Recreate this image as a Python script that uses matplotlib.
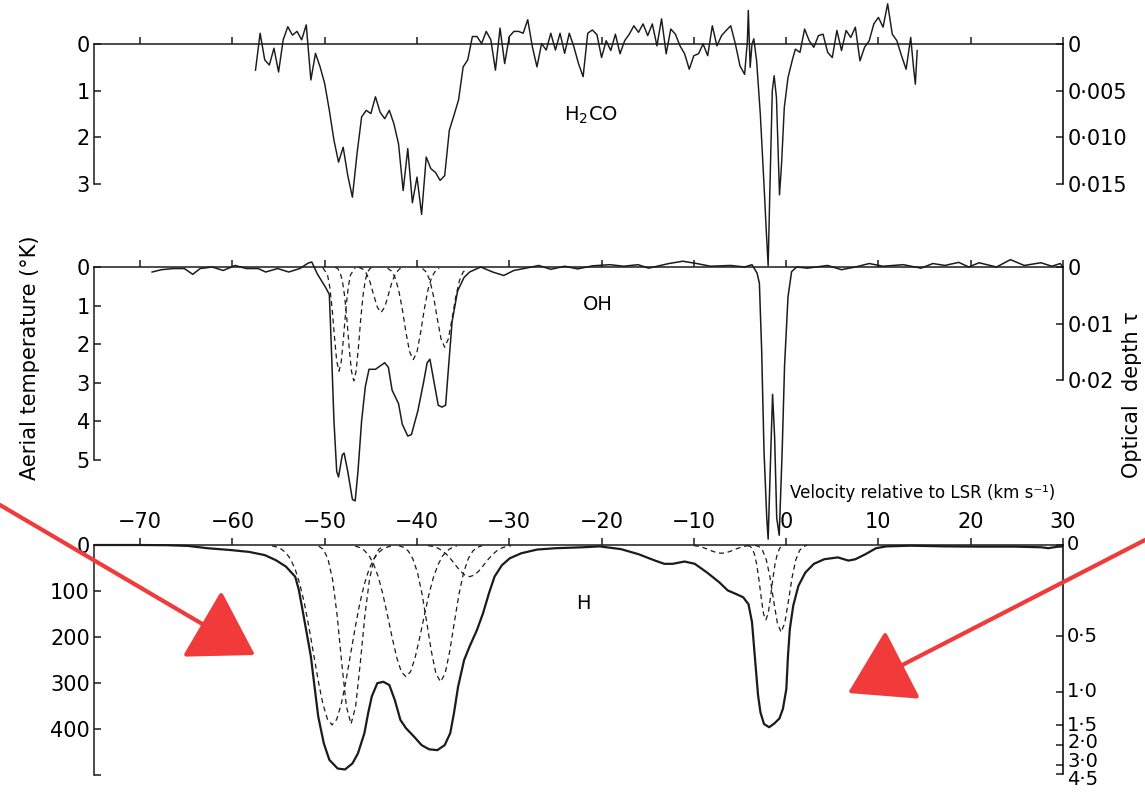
import numpy as np
import matplotlib
matplotlib.use("Agg")
import matplotlib.pyplot as plt
from matplotlib.patches import FancyArrowPatch

plt.rcParams['font.family'] = ['DejaVu Sans']

# velocity (km/s) and aerial temperature (K)
h2co_v_a = [-57.5, -57.0, -56.5, -56.0, -55.5, -55.0, -54.5, -54.0, -53.5, -53.0,
            -52.5, -52.0, -51.5, -51.0, -50.5, -50.0, -49.5, -49.0, -48.5, -48.0,
            -47.5, -47.0, -46.5, -46.0, -45.5, -45.0, -44.5, -44.0, -43.5, -43.0,
            -42.5, -42.0, -41.5, -41.0, -40.5, -40.0, -39.5, -39.0, -38.5, -38.0,
            -37.5, -37.0, -36.5, -36.0, -35.5, -35.0, -34.5, -34.0, -33.5, -33.0,
            -32.5, -32.0, -31.5, -31.0, -30.5, -30.0, -29.5, -29.0, -28.5, -28.0,
            -27.5, -27.0, -26.5, -26.0, -25.5, -25.0, -24.5, -24.0, -23.5, -23.0,
            -22.5, -22.0, -21.5, -21.0]
h2co_T_a = [0.56, -0.23, 0.34, 0.45, 0.09, 0.6, -0.09, -0.37, -0.19, -0.27,
            -0.09, -0.41, 0.77, 0.2, 0.49, 0.85, 1.42, 2.06, 2.53, 2.21,
            2.82, 3.28, 2.35, 1.56, 1.42, 1.49, 1.13, 1.46, 1.6, 1.42,
            1.71, 2.14, 3.14, 2.24, 3.4, 2.85, 3.65, 2.42, 2.67, 2.75,
            2.92, 2.82, 1.85, 1.53, 1.2, 0.49, 0.34, -0.16, -0.16, -0.01,
            -0.27, -0.09, 0.56, -0.34, 0.42, -0.16, -0.27, -0.27, -0.23, -0.52,
            0.06, 0.49, -0.01, 0.13, -0.23, 0.13, -0.23, 0.2, -0.23, 0.06,
            0.42, 0.7, -0.23, -0.3]
h2co_v_b = [-20.5, -20.0, -19.5, -19.0, -18.5, -18.0, -17.5, -17.0, -16.5, -16.0,
            -15.5, -15.0, -14.5, -14.0, -13.5, -13.0, -12.5, -12.0, -11.5, -11.0,
            -10.5, -10.0, -9.5, -9.0, -8.5, -8.0, -7.5, -7.0, -6.5, -6.0,
            -5.5, -5.0, -4.5, -4.2, -4.1, -3.9, -3.7, -3.5, -3.2, -2.8,
            -2.4, -2.15, -1.95, -1.75, -1.5, -1.3, -1.05, -0.72, -0.5, -0.2,
            0.2, 0.7, 1.0, 1.5, 2.0, 2.5, 3.0, 3.5, 4.0, 4.5,
            5.0, 5.5, 6.0, 6.5, 7.0, 7.5, 8.0, 8.5, 9.0, 9.5,
            10.0, 10.5, 11.0, 11.5, 12.0, 12.5, 13.0, 13.5, 13.8, 14.0, 14.2]
h2co_T_b = [-0.2, 0.29, -0.07, 0.14, -0.21, 0.21, -0.07, -0.21, -0.39, -0.25,
            -0.43, -0.18, -0.43, 0.04, -0.54, 0.21, -0.32, -0.21, 0.04, 0.21,
            0.54, 0.25, 0.21, 0.0, 0.25, -0.39, 0.04, -0.18, -0.29, -0.39,
            0.0, 0.47, 0.65, -0.07, -0.72, 0.5, 0.0, -0.11, 0.36, 1.5,
            3.01, 4.01, 4.75, 3.01, 1.0, 0.68, 1.15, 3.23, 2.58, 1.36,
            0.72, 0.32, 0.11, 0.18, -0.32, -0.07, 0.07, -0.18, -0.21, 0.18,
            0.29, -0.29, 0.14, -0.29, -0.14, -0.36, 0.36, 0.07, -0.07, -0.43,
            -0.57, -0.36, -0.86, -0.21, -0.07, 0.25, 0.54, -0.14, 0.5, 0.86, 0.14]

oh_v = [-68.7, -67.7, -66.4, -65.2, -64.3, -63.5, -62.2, -61.0, -59.7, -58.5,
        -57.2, -56.4, -55.1, -53.9, -52.7, -51.8, -51.4, -50.8, -49.9, -49.5,
        -49.3, -49.0, -48.7, -48.5, -48.1, -47.9, -47.5, -47.0, -46.7, -46.4,
        -46.0, -45.6, -45.2, -44.5, -43.5, -43.1, -42.7, -42.0, -41.6, -41.0,
        -40.6, -39.9, -39.3, -38.9, -38.6, -38.2, -37.7, -37.3, -36.9, -36.6,
        -36.2, -35.6, -34.9, -34.3, -33.1, -31.8, -30.6, -29.5, -28.2, -26.8,
        -25.5, -24.0, -22.6, -21.0, -19.1, -17.6, -16.05, -14.9, -12.7, -11.2,
        -9.7, -8.2, -6.0, -4.5, -3.7, -3.15, -2.9, -2.66, -2.4, -2.1,
        -1.95, -1.66, -1.47, -1.25, -1.02, -0.75, -0.43, -0.17, 0.2, 0.59,
        1.15, 2.3, 4.5, 6.0, 7.5, 9.0, 10.5, 12.7, 14.6, 15.9,
        17.2, 18.7, 19.8, 20.9, 22.8, 24.3, 25.8, 27.6, 28.8, 29.7, 30.0]
oh_T = [0.13, 0.07, 0.04, 0.04, 0.19, 0.04, 0.0, 0.09, -0.04, 0.04,
        0.04, 0.13, 0.04, 0.13, 0.04, -0.1, -0.13, 0.18, 0.53, 0.71,
        1.95, 3.98, 5.3, 5.44, 4.87, 4.82, 5.3, 6.02, 6.06, 5.31,
        3.98, 3.1, 2.65, 2.65, 2.48, 2.6, 3.19, 3.54, 4.07, 4.38,
        4.34, 3.72, 3.0, 2.48, 2.39, 2.92, 3.58, 3.63, 3.58, 2.65,
        1.42, 0.62, 0.27, 0.13, 0.0, 0.13, 0.22, 0.09, 0.03, -0.04,
        0.06, -0.02, 0.05, -0.03, -0.06, -0.02, -0.06, 0.03, -0.09, -0.15,
        -0.09, -0.02, -0.04, 0.0, -0.06, 0.16, 0.42, 2.1, 4.76, 6.5,
        7.05, 4.76, 3.3, 4.4, 6.5, 6.95, 4.76, 2.55, 0.78, 0.12,
        0.0, 0.03, -0.04, 0.07, 0.0, -0.09, -0.02, -0.06, 0.03, -0.09,
        -0.04, -0.12, 0.0, -0.11, 0.0, -0.19, -0.04, -0.11, -0.02, -0.09, 0.0]

# OH fitted components (dashed)
oh_a_v = [-50.2, -49.7, -49.45, -49.2, -48.95, -48.7, -48.45, -48.2, -47.95, -47.7, -47.45, -47.2, -46.7]
oh_a_T = [0.02, 0.2, 0.52, 1.07, 1.79, 2.44, 2.7, 2.44, 1.79, 1.07, 0.52, 0.2, 0.02]
oh_b_v = [-48.85, -48.6, -48.35, -48.1, -47.85, -47.6, -47.35, -47.1, -46.85,
          -46.6, -46.35, -46.1, -45.85, -45.6, -45.35, -45.1, -44.85]
oh_b_T = [0.01, 0.04, 0.13, 0.34, 0.74, 1.35, 2.09, 2.7, 2.95,
          2.7, 2.09, 1.35, 0.74, 0.34, 0.13, 0.04, 0.01]
oh_c_v = [-46.3, -45.9, -45.5, -45.1, -44.7, -44.3, -43.9, -43.5, -43.1, -42.7, -42.3, -41.9, -41.5]
oh_c_T = [0.01, 0.05, 0.16, 0.38, 0.72, 1.04, 1.18, 1.04, 0.72, 0.38, 0.16, 0.05, 0.01]
oh_d_v = [-43.2, -42.8, -42.4, -42.0, -41.6, -41.2, -40.8, -40.4, -40.0, -39.6, -39.2, -38.8, -38.4, -38.0, -37.6]
oh_d_T = [0.03, 0.1, 0.26, 0.58, 1.08, 1.69, 2.2, 2.4, 2.2, 1.69, 1.08, 0.58, 0.26, 0.1, 0.03]
oh_e_v = [-39.4, -39.0, -38.6, -38.2, -37.8, -37.4, -37.0, -36.6, -36.2, -35.8, -35.4, -35.0, -34.6]
oh_e_T = [0.04, 0.13, 0.35, 0.77, 1.34, 1.86, 2.08, 1.86, 1.34, 0.77, 0.35, 0.13, 0.04]

h_v = [-75.0, -70.0, -67.0, -64.8, -62.7, -60.2, -58.2, -56.5, -55.3, -54.2,
       -53.2, -52.8, -52.4, -51.95, -51.5, -51.1, -50.7, -50.1, -49.5, -48.6,
       -47.8, -47.0, -46.4, -45.7, -45.3, -44.9, -44.3, -43.65, -43.0, -42.4,
       -41.8, -41.2, -40.3, -39.5, -38.7, -37.8, -37.0, -36.4, -36.0, -35.55,
       -34.9, -34.3, -33.5, -32.85, -32.2, -31.6, -30.8, -29.95, -28.7, -27.0,
       -25.0, -22.1, -20.2, -17.9, -16.0, -14.2, -13.2, -12.3, -11.0, -9.9,
       -8.57, -7.26, -6.33, -5.4, -4.65, -4.08, -3.7, -3.34, -3.04, -2.78,
       -2.4, -1.84, -1.29, -0.73, -0.35, 0.02, 0.2, 0.4, 0.77, 1.33,
       2.08, 3.01, 4.13, 5.6, 6.75, 7.5, 8.6, 9.74, 10.86, 13.5,
       17.2, 20.9, 24.7, 27.7, 28.4, 29.3, 30.0]
h_T = [0, 0, 0.5, 2, 7, 11, 15, 22, 33, 47,
       69, 98, 142, 192, 243, 309, 374, 432, 468, 487,
       489, 476, 454, 410, 367, 330, 301, 298, 305, 338,
       381, 399, 418, 436, 445, 447, 436, 410, 367, 309,
       251, 221, 185, 149, 105, 69, 44, 29, 18, 10,
       7, 5, 3, 9, 20, 34, 41, 41, 36, 41,
       60, 81, 99, 107, 114, 129, 168, 256, 328, 365,
       390, 397, 389, 378, 357, 314, 241, 183, 132, 89,
       60, 41, 31, 27, 34, 31, 20, 7, 3, 1.5,
       3, 3.5, 3.5, 5, 7, 4, 3]

# H fitted components (dashed)
h1_v = [-55.7, -55.2, -54.7, -54.2, -53.7, -53.2, -52.7, -52.2, -51.7, -51.2, -50.7, -50.2, -49.7, -49.2,
        -48.7, -48.2, -47.7, -47.2, -46.7, -46.2, -45.7, -45.2, -44.7, -44.2, -43.7, -43.2, -42.7]
h1_T = [2, 4.4, 9, 17, 31, 53, 85, 127, 180, 238, 296, 346, 380, 392,
        380, 346, 296, 238, 180, 127, 85, 53, 31, 17, 9, 4.4, 2]
h2_v = [-50.65, -50.15, -49.65, -49.15, -48.65, -48.15, -47.65, -47.15,
        -46.65, -46.15, -45.65, -45.15, -44.65, -44.15, -43.65]
h2_T = [2.5, 9.5, 30, 75, 154, 258, 352, 390, 352, 258, 154, 75, 30, 9.5, 2.5]
h3_v = [-46.7, -46.2, -45.7, -45.2, -44.7, -44.2, -43.7, -43.2, -42.7, -42.2, -41.7, -41.2,
        -40.7, -40.2, -39.7, -39.2, -38.7, -38.2, -37.7, -37.2, -36.7, -36.2, -35.7]
h3_T = [2.4, 5.6, 12, 23, 42, 69, 107, 153, 201, 245, 276, 287,
        276, 245, 201, 153, 107, 69, 42, 23, 12, 5.6, 2.4]
h4_v = [-41.95, -41.45, -40.95, -40.45, -39.95, -39.45, -38.95, -38.45, -37.95, -37.45,
        -36.95, -36.45, -35.95, -35.45, -34.95, -34.45, -33.95, -33.45, -32.95]
h4_T = [1.7, 5, 13, 30, 60, 107, 168, 231, 280, 298, 280, 231, 168, 107, 60, 30, 13, 5, 1.7]
h5_v = [-38.8, -38.3, -37.8, -37.3, -36.8, -36.3, -35.8, -35.3, -34.8, -34.3,
        -33.8, -33.3, -32.8, -32.3, -31.8, -31.3, -30.8, -30.3, -29.8]
h5_T = [1.3, 3, 6.3, 11.9, 20.4, 31.6, 44.4, 56.8, 65.7, 69, 65.7, 56.8, 44.4, 31.6, 20.4, 11.9, 6.3, 3, 1.3]
h6_v = [-10.0, -9.5, -9.0, -8.5, -8.0, -7.5, -7.0, -6.5, -6.0, -5.5, -5.0, -4.5, -4.0]
h6_T = [1.3, 2.8, 5.5, 9.2, 13.4, 16.7, 18, 16.7, 13.4, 9.2, 5.5, 2.8, 1.3]
h7_v = [-4.2, -3.95, -3.7, -3.45, -3.2, -2.95, -2.7, -2.45, -2.2, -1.95, -1.7, -1.45, -1.2, -0.95, -0.7, -0.45, -0.2]
h7_T = [0.6, 2.3, 7, 19, 41, 75, 115, 150, 163, 150, 115, 75, 41, 19, 7, 2.3, 0.6]
h8_v = [-3.35, -2.95, -2.55, -2.15, -1.75, -1.35, -0.95, -0.55, -0.15, 0.25, 0.65, 1.05, 1.45, 1.85, 2.25]
h8_T = [0.8, 3.5, 12, 32, 70, 122, 170, 190, 170, 122, 70, 32, 12, 3.5, 0.8]

vel_ticks = [-70, -60, -50, -40, -30, -20, -10, 0, 10, 20, 30]

h2co_left_ticks = [0, 1, 2, 3]
h2co_tau_ticks = [0, 0.005, 0.010, 0.015]
h2co_tau_labels = ['0', '0·005', '0·010', '0·015']
oh_left_ticks = [0, 1, 2, 3, 4, 5]
oh_tau_ticks = [0, 0.01, 0.02]
oh_tau_labels = ['0', '0·01', '0·02']
h_left_ticks = [0, 100, 200, 300, 400, 500]
h_left_labels = ['0', '100', '200', '300', '400', '']
h_tau_ticks = [0, 0.5, 1.0, 1.5, 2.0, 3.0, 4.5]
h_tau_labels = ['0', '0·5', '1·0', '1·5', '2·0', '3·0', '4·5']
h_tau_label_shift = [0, 0, 0, 0, 2, 3, -4]   # points, to unstack the crowded labels

INK = '#1b1b1b'
RED = '#f13b3b'
FIG_W, FIG_H = 1145, 792
LEFT_PX, RIGHT_PX = 94, 1063

fig = plt.figure(figsize=(FIG_W / 100, FIG_H / 100), dpi=100)


def make_panel(zero_px, px_per_unit, top_val, bottom_val, bound):
    top_px = zero_px + top_val * px_per_unit
    bot_px = zero_px + bottom_val * px_per_unit
    ax = fig.add_axes([LEFT_PX / FIG_W, 1 - bot_px / FIG_H,
                       (RIGHT_PX - LEFT_PX) / FIG_W, (bot_px - top_px) / FIG_H])
    ax.set_xlim(-75, 30)
    ax.set_ylim(bottom_val, top_val)
    ax.patch.set_visible(False)
    ax.spines['bottom'].set_visible(False)
    ax.spines['right'].set_visible(False)
    ax.spines['top'].set_position(('data', 0))
    ax.spines['left'].set_bounds(0, bound)
    for s in ax.spines.values():
        s.set_linewidth(1.1)
        s.set_color(INK)
    ax.xaxis.set_ticks_position('top')
    ax.set_xticks(vel_ticks)
    ax.tick_params(axis='x', direction='out', length=5, width=1.1, labeltop=False, color=INK)
    ax.tick_params(axis='y', direction='in', length=5, width=1.1, labelsize=15, pad=3, color=INK)
    return ax


def right_scale(ax, positions, labels, bound):
    tw = ax.twinx()
    tw.set_ylim(ax.get_ylim())
    for s in ['left', 'top', 'bottom']:
        tw.spines[s].set_visible(False)
    tw.spines['right'].set_bounds(0, bound)
    tw.spines['right'].set_linewidth(1.1)
    tw.set_yticks(positions, labels)
    tw.tick_params(axis='y', direction='in', length=5, width=1.1, labelsize=15, pad=3, color=INK)
    return tw


# H2CO panel
ax1 = make_panel(44, 46.7, -0.9, 4.8, 3)
ax1.plot(h2co_v_a + h2co_v_b, h2co_T_a + h2co_T_b, color=INK, lw=1.05)
ax1.set_yticks(h2co_left_ticks)
right_scale(ax1, [t * 200 for t in h2co_tau_ticks], h2co_tau_labels, 3)
ax1.text(-21.2, 1.52, 'H$_2$CO', fontsize=14, ha='center', va='center')

# OH panel
ax2 = make_panel(267, 38.6, -0.5, 7.3, 5)
ax2.plot(oh_v, oh_T, color=INK, lw=1.1)
for v, t in [(oh_a_v, oh_a_T), (oh_b_v, oh_b_T), (oh_c_v, oh_c_T), (oh_d_v, oh_d_T), (oh_e_v, oh_e_T)]:
    ax2.plot(v, t, color=INK, lw=0.9, ls=(0, (4, 3)))
ax2.set_yticks(oh_left_ticks)
right_scale(ax2, [t * 147 for t in oh_tau_ticks], oh_tau_labels, 2.94)
ax2.text(-20.4, 0.98, 'OH', fontsize=14, ha='center', va='center')

# H panel
ax3 = make_panel(545, 0.459, -10, 505, 500)
ax3.plot(h_v, h_T, color=INK, lw=1.6)
for v, t in [(h1_v, h1_T), (h2_v, h2_T), (h3_v, h3_T), (h4_v, h4_T),
             (h5_v, h5_T), (h6_v, h6_T), (h7_v, h7_T), (h8_v, h8_T)]:
    ax3.plot(v, t, color=INK, lw=0.9, ls=(0, (4, 3)))
ax3.set_yticks(h_left_ticks, h_left_labels)
ax3.tick_params(axis='x', labeltop=True, labelsize=15, pad=4)
h_tau_pos = [505 * (1 - np.exp(-t)) for t in h_tau_ticks]
tw3 = right_scale(ax3, h_tau_pos, [''] * len(h_tau_pos), h_tau_pos[-1])
for pos, lab, dy in zip(h_tau_pos, h_tau_labels, h_tau_label_shift):
    tw3.annotate(lab, xy=(1, pos), xycoords=('axes fraction', 'data'),
                 xytext=(3, dy), textcoords='offset points',
                 ha='left', va='center', fontsize=14, annotation_clip=False)
ax3.text(-22.0, 128, 'H', fontsize=14, ha='center', va='center')

fig.text(30 / FIG_W, 1 - 358 / FIG_H, 'Aerial temperature (°K)', rotation=90,
         ha='center', va='center', fontsize=15)
fig.text(1132 / FIG_W, 1 - 395 / FIG_H, 'Optical  depth τ', rotation=90,
         ha='center', va='center', fontsize=15)
fig.text(790 / FIG_W, 1 - 493 / FIG_H, 'Velocity relative to LSR (km s⁻¹)',
         ha='left', va='center', fontsize=12)

# red pointer arrows
for tail, tip in [((0, 505), (255, 655)), ((1145, 540), (848, 693))]:
    arr = FancyArrowPatch((tail[0] / FIG_W, 1 - tail[1] / FIG_H), (tip[0] / FIG_W, 1 - tip[1] / FIG_H),
                          transform=fig.transFigure, arrowstyle='-|>,head_length=1.0,head_width=0.62',
                          mutation_scale=40, lw=3, color=RED, shrinkA=0, shrinkB=0)
    fig.add_artist(arr)

fig.savefig('out.png', dpi=100)
